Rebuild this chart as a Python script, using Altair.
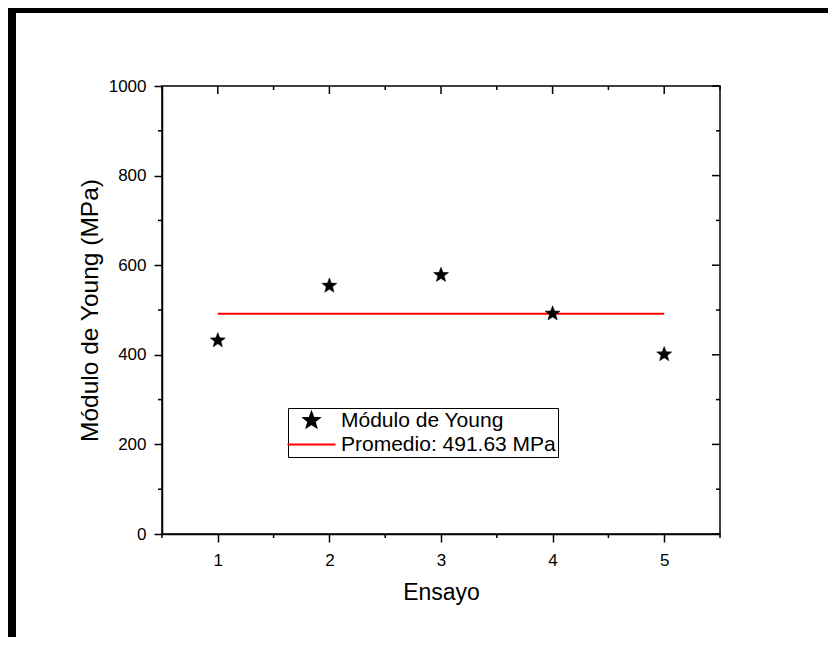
import math
import altair as alt
import pandas as pd

# ---- data ----
ensayo = [1, 2, 3, 4, 5]
modulo = [432, 554, 578, 492, 401]
promedio = 491.63
serie_puntos = "Módulo de Young"
serie_linea = "Promedio: 491.63 MPa"

x_major = [1, 2, 3, 4, 5]
x_minor = [0.5, 1.5, 2.5, 3.5, 4.5, 5.5]
y_major = [0, 200, 400, 600, 800, 1000]
y_minor = [100, 300, 500, 700, 900]

# ---- layout / style ----
W, H = 558, 448
PAD = {"left": 154, "top": 78, "right": 108, "bottom": 103}
FONT = "Liberation Sans"


def star_path(inner=0.42):
    pts = []
    for k in range(10):
        r = 1.0 if k % 2 == 0 else inner
        a = math.radians(-90 + 36 * k)
        pts.append((r * math.cos(a), r * math.sin(a)))
    return "M" + "L".join(f"{x:.4f},{y:.4f}" for x, y in pts) + "Z"


STAR = star_path()
LINE_SYM = "M-3.04,0L3.04,0"

x_scale = alt.Scale(domain=[0.5, 5.5], nice=False, zero=False)
y_scale = alt.Scale(domain=[0, 1000], nice=False)

pts = pd.DataFrame({"Ensayo": ensayo, "Modulo": modulo, "Serie": [serie_puntos] * len(ensayo)})
avg = pd.DataFrame({"Ensayo": [ensayo[0], ensayo[-1]], "Modulo": [promedio, promedio]})

legend = alt.Legend(
    orient="none", legendX=126, legendY=322, title=None,
    labelFont=FONT, labelFontSize=21, labelColor="black", labelLimit=0,
    strokeColor="black", padding=2, rowPadding=2,
    symbolSize=250, symbolStrokeWidth=2, symbolOffset=11, labelOffset=19,
)
dom = [serie_puntos, serie_linea]

points = alt.Chart(pts).mark_point(filled=True, size=250, strokeWidth=0.5, opacity=1).encode(
    x=alt.X("Ensayo:Q", scale=x_scale,
            axis=alt.Axis(values=x_major, title="Ensayo", format="d", tickSize=8,
                          labelPadding=10, titlePadding=13)),
    y=alt.Y("Modulo:Q", scale=y_scale,
            axis=alt.Axis(values=y_major, title="Módulo de Young (MPa)", format="d", tickSize=8,
                          labelPadding=8, titlePadding=6, titleFontSize=24.5)),
    shape=alt.Shape("Serie:N", scale=alt.Scale(domain=dom, range=[STAR, LINE_SYM]), legend=legend),
    fill=alt.Fill("Serie:N", scale=alt.Scale(domain=dom, range=["black", "red"]), legend=legend),
    stroke=alt.Stroke("Serie:N", scale=alt.Scale(domain=dom, range=["black", "red"]), legend=legend),
)

line = alt.Chart(avg).mark_line(color="red", strokeWidth=2).encode(
    x=alt.X("Ensayo:Q", scale=x_scale),
    y=alt.Y("Modulo:Q", scale=y_scale),
)

xmaj = pd.DataFrame({"v": x_major})
xmin = pd.DataFrame({"v": x_minor})
ymaj = pd.DataFrame({"v": y_major})
ymin = pd.DataFrame({"v": y_minor})

TW = 1.5
top_major = alt.Chart(xmaj).mark_rule(color="black", strokeWidth=TW).encode(
    x=alt.X("v:Q", scale=x_scale), y=alt.value(0), y2=alt.value(8))
top_minor = alt.Chart(xmin).mark_rule(color="black", strokeWidth=TW).encode(
    x=alt.X("v:Q", scale=x_scale), y=alt.value(0), y2=alt.value(4))
bot_minor = alt.Chart(xmin).mark_rule(color="black", strokeWidth=TW).encode(
    x=alt.X("v:Q", scale=x_scale), y=alt.value(H), y2=alt.value(H + 4))
right_major = alt.Chart(ymaj).mark_rule(color="black", strokeWidth=TW).encode(
    y=alt.Y("v:Q", scale=y_scale), x=alt.value(W - 8), x2=alt.value(W))
right_minor = alt.Chart(ymin).mark_rule(color="black", strokeWidth=TW).encode(
    y=alt.Y("v:Q", scale=y_scale), x=alt.value(W - 4), x2=alt.value(W))
left_minor = alt.Chart(ymin).mark_rule(color="black", strokeWidth=TW).encode(
    y=alt.Y("v:Q", scale=y_scale), x=alt.value(-4), x2=alt.value(0))

dummy = pd.DataFrame({"d": [0]})
TOT_W = W + PAD["left"] + PAD["right"]
TOT_H = H + PAD["top"] + PAD["bottom"]
L, T = -PAD["left"], -PAD["top"]
frame_top = alt.Chart(dummy).mark_rect(color="black").encode(
    x=alt.value(L), x2=alt.value(L + TOT_W), y=alt.value(T), y2=alt.value(T + 5))
frame_left = alt.Chart(dummy).mark_rect(color="black").encode(
    x=alt.value(L), x2=alt.value(L + 8), y=alt.value(T), y2=alt.value(T + TOT_H))

chart = alt.layer(
    frame_top, frame_left,
    top_major, top_minor, bot_minor, right_major, right_minor, left_minor,
    line, points,
).properties(
    width=W, height=H,
    autosize=alt.AutoSizeParams(type="none"),
    padding=PAD,
    background="white",
).configure_view(
    stroke="black", strokeWidth=1.5,
).configure_axis(
    grid=False, domainColor="black", domainWidth=1.5, tickColor="black", tickWidth=1.5,
    labelFont=FONT, labelFontSize=17, labelColor="black",
    titleFont=FONT, titleFontSize=23, titleFontWeight="normal", titleColor="black",
)

chart.save("out.html", embed_options={"renderer": "svg", "actions": False})
